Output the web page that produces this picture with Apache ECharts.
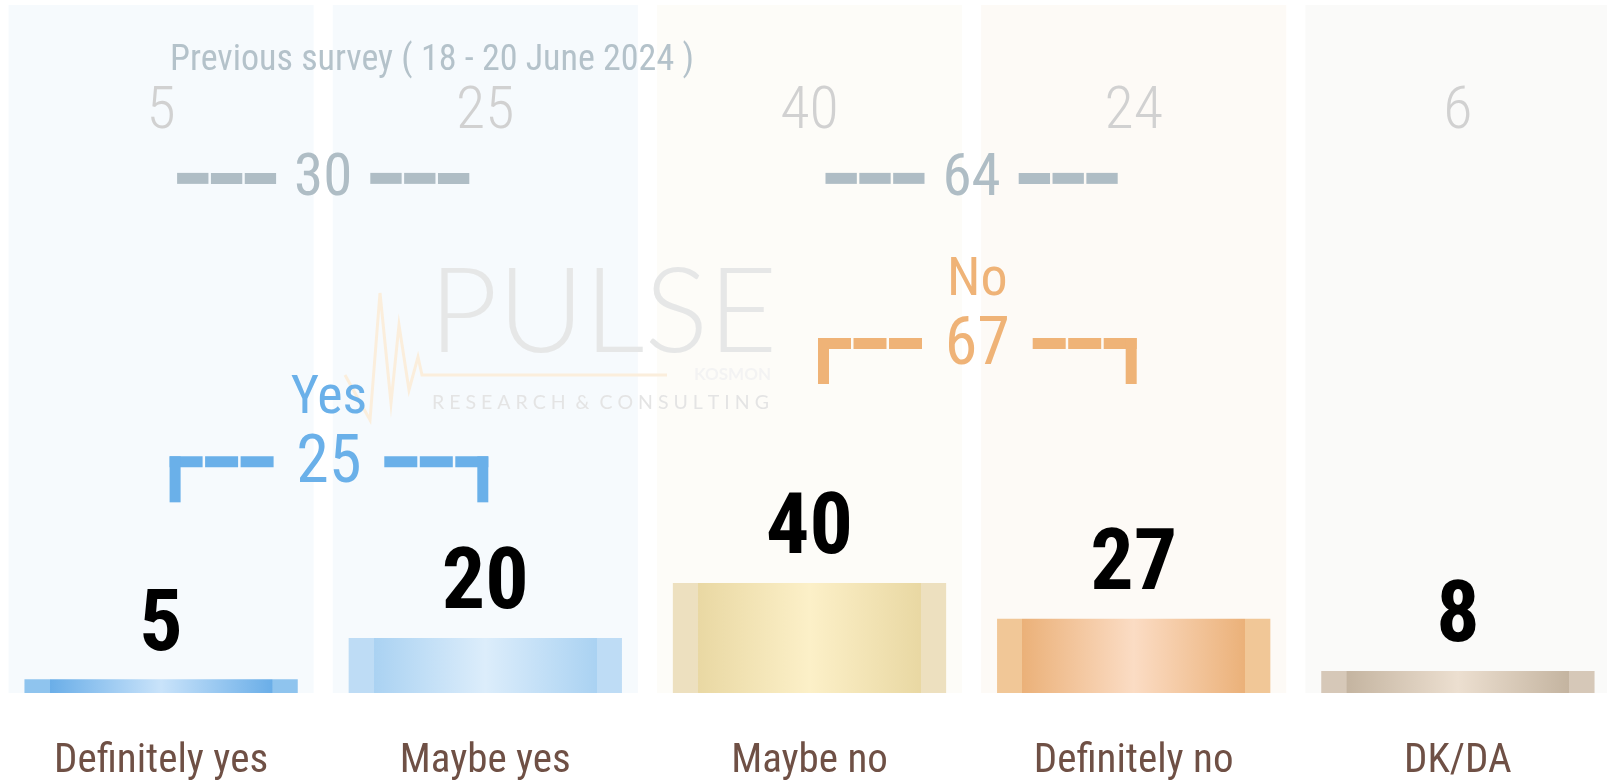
<!DOCTYPE html>
<html>
<head>
<meta charset="utf-8">
<script src="https://cdn.jsdelivr.net/npm/echarts@6/dist/echarts.min.js"></script>
<style>
html, body { margin: 0; padding: 0; background: #fff; overflow: hidden; }
#main { width: 1621px; height: 782px; position: absolute; left: -1px; top: 0; }
</style>
</head>
<body>
<div id="main"></div>
<script>
const categories = ['Definitely yes', 'Maybe yes', 'Maybe no', 'Definitely no', 'DK/DA'];
const currentValues = [5, 20, 40, 27, 8];
const previousValues = [5, 25, 40, 24, 6];
const groupNames = ['Yes', 'No'];
const groupRanges = [[0, 1], [2, 3]];
const currentTotals = [25, 67];
const previousTotals = [30, 64];
const previousTitle = 'Previous survey ( 18 - 20 June 2024 )';

// styling
const FONT = "'Roboto Condensed', 'Liberation Sans Narrow', 'DejaVu Sans Condensed', Roboto, sans-serif";
const yMax = 250;
const barColors = [
  ['#8fc4ee', '#6aaee8', '#c9e3fa'],
  ['#bedcf5', '#aad2f2', '#dcedfb'],
  ['#ede0bf', '#e9d8a3', '#fcf0c8'],
  ['#f1c797', '#ebb179', '#fbdcc4'],
  ['#d6c8b8', '#c4b4a0', '#ecdfd0']
];
const bandColors = ['#f6fafd', '#f6fafd', '#fdfcf8', '#fdfaf6', '#fafaf9'];
const groupColors = ['#6ab0e9', '#efb377'];
const grayColor = '#afbdc5';
const bracketLevels = [84, 127];
const previousLevel = 187;

function barGradient(c) {
  return new echarts.graphic.LinearGradient(0, 0, 1, 0, [
    { offset: 0, color: c[0] }, { offset: 0.092, color: c[0] },
    { offset: 0.093, color: c[1] }, { offset: 0.5, color: c[2] },
    { offset: 0.907, color: c[1] }, { offset: 0.908, color: c[0] },
    { offset: 1, color: c[0] }
  ]);
}

function dashRun(xa, xb, yc, t, color) {
  const n = 3, gap = 2.5;
  const seg = (xb - xa - gap * (n - 1)) / n;
  const out = [];
  for (let k = 0; k < n; k++) {
    out.push({ type: 'rect', shape: { x: xa + k * (seg + gap), y: yc - t / 2, width: seg, height: t }, style: { fill: color } });
  }
  return out;
}

function currentBracket(params, api) {
  const i = params.dataIndex;
  const xL = api.coord([api.value(0), 0])[0] + 8.5;
  const xR = api.coord([api.value(1), 0])[0] + 3;
  const y = api.coord([0, bracketLevels[i]])[1];
  const color = groupColors[i];
  const len = 104, t = 11;
  const kids = []
    .concat(dashRun(xL, xL + len, y, t, color))
    .concat(dashRun(xR - len, xR, y, t, color));
  kids.push({ type: 'rect', shape: { x: xL, y: y - t / 2, width: 11, height: 46 }, style: { fill: color } });
  kids.push({ type: 'rect', shape: { x: xR - 11, y: y - t / 2, width: 11, height: 46 }, style: { fill: color } });
  kids.push({ type: 'text', style: { text: String(api.value(2)), x: (xL + xR) / 2, y: y + 4, align: 'center', verticalAlign: 'middle', fontSize: 66, fontFamily: FONT, fill: color } });
  kids.push({ type: 'text', style: { text: groupNames[i], x: (xL + xR) / 2, y: y - 62, align: 'center', verticalAlign: 'middle', fontSize: 54, fontFamily: FONT, fill: color } });
  return { type: 'group', children: kids };
}

function previousBracket(params, api) {
  const xL = api.coord([api.value(0), 0])[0] + 16;
  const xR = api.coord([api.value(1), 0])[0] - 16;
  const y = api.coord([0, previousLevel])[1];
  const len = 99, t = 11;
  const kids = []
    .concat(dashRun(xL, xL + len, y, t, grayColor))
    .concat(dashRun(xR - len, xR, y, t, grayColor));
  kids.push({ type: 'text', style: { text: String(api.value(2)), x: (xL + xR) / 2, y: y + 2, align: 'center', verticalAlign: 'middle', fontSize: 59, fontFamily: FONT, fill: grayColor } });
  return { type: 'group', children: kids };
}

const myChart = echarts.init(document.getElementById('main'));

const option = {
  animation: false,
  backgroundColor: '#fff',
  grid: { left: 0, right: 0, top: 5, bottom: 89 },
  xAxis: [
    {
      type: 'category',
      data: categories,
      axisLine: { show: false },
      axisTick: { show: false },
      axisLabel: { margin: 48, fontSize: 41, color: '#6f5045', fontFamily: FONT }
    },
    { type: 'category', data: categories, show: false }
  ],
  yAxis: { type: 'value', min: 0, max: yMax, show: false, splitLine: { show: false } },
  graphic: [
    { type: 'polyline', z: 1, silent: true, shape: { points: [[346, 375], [371, 420], [381, 293], [392, 403], [400, 325], [410, 390], [419, 357], [423, 375], [668, 375]] }, style: { stroke: '#fbeedc', lineWidth: 3, fill: null } },
    { type: 'text', z: 1, silent: true, style: { text: 'PULSE', x: 430, y: 314, verticalAlign: 'middle', fontSize: 119, fontWeight: 300, fontFamily: 'Lato', fill: '#e6e7e7' } },
    { type: 'text', z: 1, silent: true, style: { text: 'KOSMON', x: 772, y: 375, align: 'right', verticalAlign: 'middle', fontSize: 17, fontWeight: 'bold', fontFamily: 'Lato', fill: '#f3f3f3' } },
    { type: 'text', z: 1, silent: true, style: { text: 'R E S E A R C H  &  C O N S U L T I N G', x: 433, y: 403, verticalAlign: 'middle', fontSize: 19.5, fontFamily: 'Lato', fill: '#e4e4e4' } },
    {
      type: 'text', z: 5, silent: true,
      style: { text: previousTitle, x: 433, y: 61, align: 'center', verticalAlign: 'middle', fontSize: 36, fontFamily: FONT, fill: '#b4c2ca' }
    }
  ],
  series: [
    {
      type: 'bar',
      xAxisIndex: 1,
      z: 0,
      barWidth: '94.1%',
      silent: true,
      data: previousValues.map(function (v, i) {
        return { value: yMax, itemStyle: { color: bandColors[i] } };
      }),
      label: {
        show: true,
        position: ['50%', 108],
        align: 'center',
        verticalAlign: 'middle',
        fontSize: 60,
        fontWeight: 300,
        fontFamily: FONT,
        color: '#d1d1d1',
        formatter: function (p) { return previousValues[p.dataIndex]; }
      }
    },
    {
      type: 'bar',
      xAxisIndex: 0,
      z: 2,
      barWidth: '84.3%',
      data: currentValues.map(function (v, i) {
        return { value: v, itemStyle: { color: barGradient(barColors[i]) } };
      }),
      label: {
        show: true,
        position: 'top',
        distance: 8,
        fontSize: 86,
        fontWeight: 'bold',
        fontFamily: FONT,
        color: '#000'
      }
    },
    {
      type: 'custom',
      xAxisIndex: 0,
      z: 3,
      renderItem: previousBracket,
      data: groupRanges.map(function (r, i) { return [r[0], r[1], previousTotals[i]]; })
    },
    {
      type: 'custom',
      xAxisIndex: 0,
      z: 3,
      renderItem: currentBracket,
      data: groupRanges.map(function (r, i) { return [r[0], r[1], currentTotals[i]]; })
    }
  ]
};

myChart.setOption(option);
</script>
</body>
</html>
